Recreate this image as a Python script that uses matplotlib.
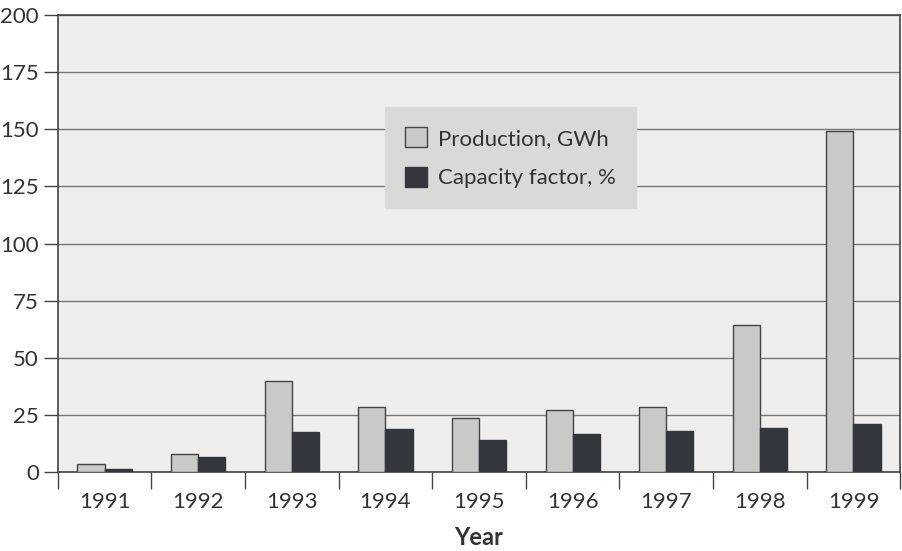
import numpy as np
import matplotlib.pyplot as plt

years = ['1991', '1992', '1993', '1994', '1995', '1996', '1997', '1998', '1999']
production = [3.5, 8, 40, 28.5, 23.5, 27, 28.5, 64.5, 149]
capacity = [1.5, 6.5, 17.5, 19, 14, 16.5, 18, 19.5, 21]
y_ticks = [0, 25, 50, 75, 100, 125, 150, 175, 200]

plt.rcParams['font.family'] = ['Lato', 'DejaVu Sans']

fig = plt.figure(figsize=(9.03, 5.51), dpi=100)
ax = fig.add_axes([0.064, 0.143, 0.933, 0.83])
ax.set_facecolor('#efeeec')

x = np.arange(len(years))
w = 0.29
ax.bar(x - w / 2, production, w, color='#c9c9c8', edgecolor='#444444', linewidth=1,
       label='Production, GWh', zorder=3)
ax.bar(x + w / 2, capacity, w, color='#33363c', edgecolor='#33363c', linewidth=1,
       label='Capacity factor, %', zorder=3)

ax.set_xlim(-0.5, len(years) - 0.5)
ax.set_ylim(0, 200)
ax.set_yticks(y_ticks)
ax.yaxis.grid(True, color='#777777', linewidth=1)
ax.set_axisbelow(True)

ax.set_xticks(x)
ax.set_xticklabels(years)
ax.set_xticks(np.arange(len(years) + 1) - 0.5, minor=True)
ax.tick_params(axis='x', which='major', length=0, pad=14, labelsize=16, labelcolor='#333333')
ax.tick_params(axis='x', which='minor', length=12, width=1, color='#444444', direction='out')
ax.tick_params(axis='y', length=10, width=1, color='#444444', labelsize=16, labelcolor='#333333')

for s in ax.spines.values():
    s.set_color('#444444')
    s.set_linewidth(1.2)

ax.set_xlabel('Year', fontsize=17, fontweight='bold', color='#333333', labelpad=10)

leg = ax.legend(loc='upper left', bbox_to_anchor=(0.375, 0.822), fontsize=16, frameon=True,
                facecolor='#d9d9d7', edgecolor='#d9d9d7', fancybox=False, framealpha=1,
                handlelength=1.0, handleheight=1.0, handletextpad=0.5, borderpad=0.9,
                labelspacing=0.8, labelcolor='#333333')

plt.savefig('out.png', dpi=100)
